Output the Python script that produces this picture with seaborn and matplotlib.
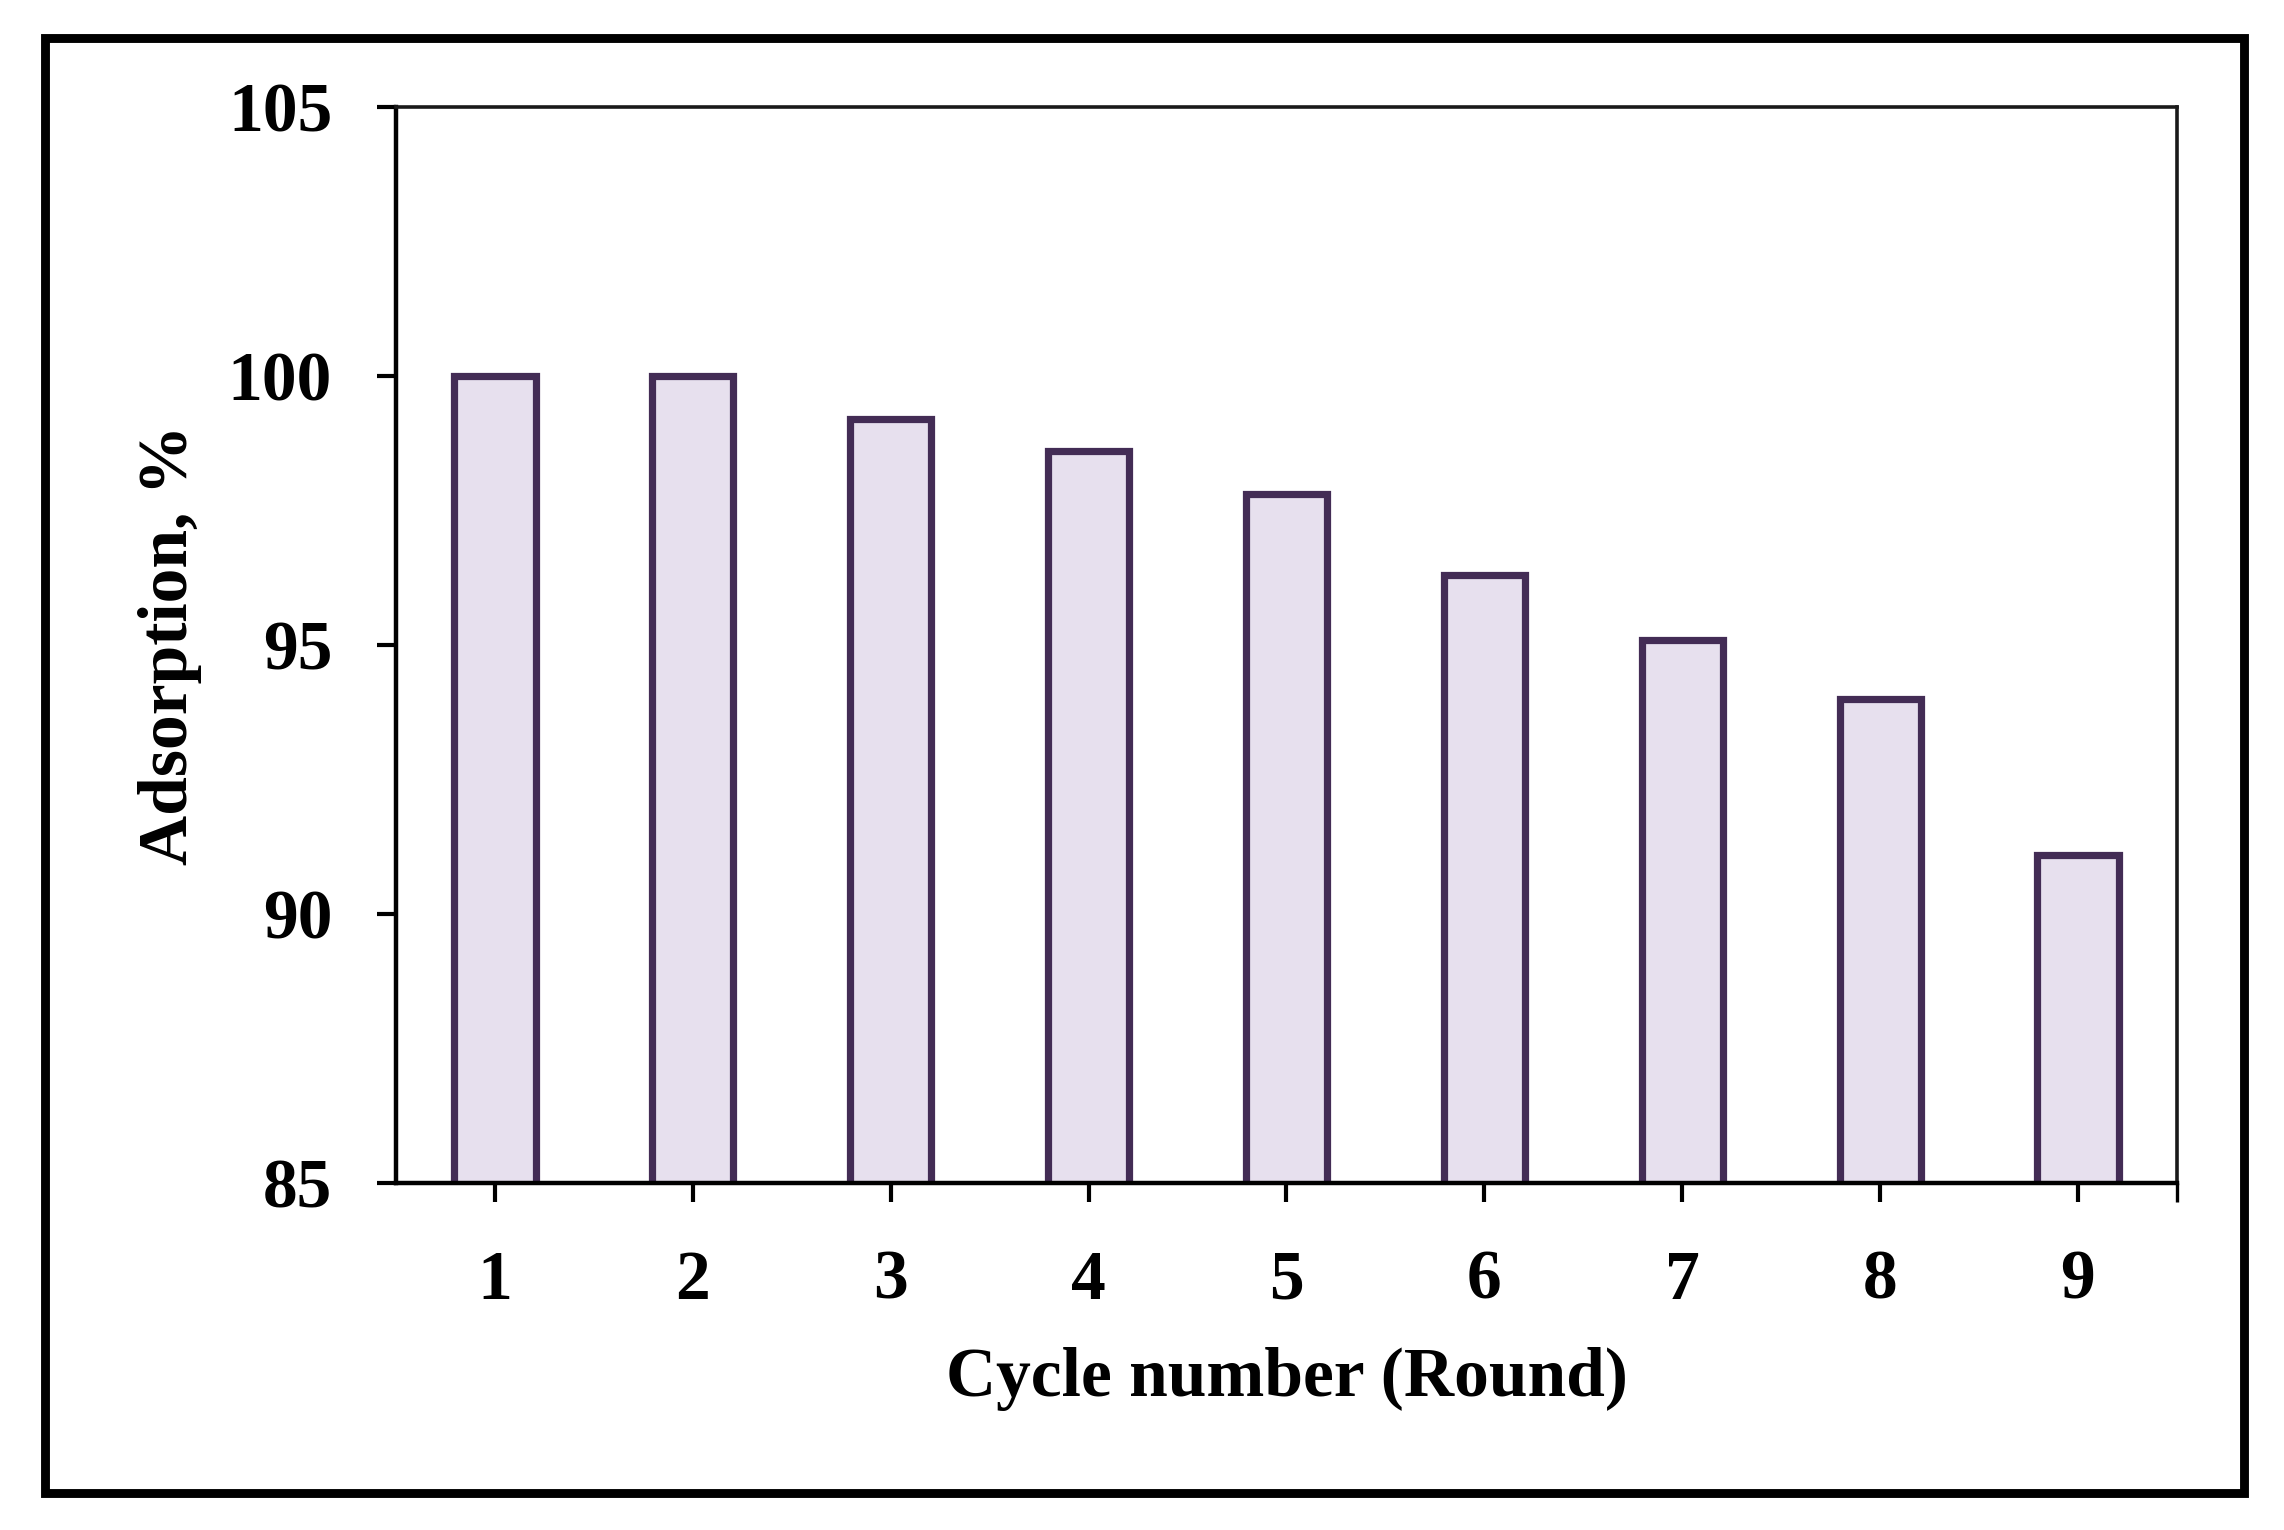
import matplotlib
matplotlib.use("Agg")
import matplotlib.pyplot as plt
import seaborn as sns
import pandas as pd
from matplotlib.patches import Rectangle

# data
cycles = ["1", "2", "3", "4", "5", "6", "7", "8", "9"]
adsorption = [100.0, 100.0, 99.2, 98.6, 97.8, 96.3, 95.1, 94.0, 91.1]
y_ticks = [85, 90, 95, 100, 105]

bar_fill = "#E7E0EE"
bar_edge = "#432C55"

sns.set_style("white")
plt.rcParams["font.family"] = ["Liberation Serif", "DejaVu Serif"]
plt.rcParams["font.weight"] = "bold"
plt.rcParams["text.color"] = "black"
plt.rcParams["axes.labelcolor"] = "black"
plt.rcParams["xtick.color"] = "black"
plt.rcParams["ytick.color"] = "black"

df = pd.DataFrame({"cycle": cycles, "adsorption": adsorption})

fig = plt.figure(figsize=(11.42, 7.65), dpi=200)
ax = fig.add_axes([0.1734, 0.2268, 0.9531 - 0.1734, 0.9301 - 0.2268])

sns.barplot(data=df, x="cycle", y="adsorption", order=cycles, color=bar_fill,
            saturation=1, edgecolor=bar_edge, linewidth=2.6, width=0.41, ax=ax)

ax.set_ylim(85, 105)
ax.set_xlim(-0.5, 8.5)
ax.set_yticks(y_ticks)
ax.set_yticklabels([str(t) for t in y_ticks])

# spines
for side in ["left", "bottom"]:
    ax.spines[side].set_linewidth(1.6)
    ax.spines[side].set_color("black")
for side in ["top", "right"]:
    ax.spines[side].set_linewidth(1.3)
    ax.spines[side].set_color("#1a1a1a")
    ax.spines[side].set_visible(True)
ax.spines["bottom"].set_zorder(5)

ax.tick_params(axis="both", direction="out", length=7, width=1.5, color="black",
               labelcolor="black", labelsize=25, pad=16)
ax.tick_params(axis="x", pad=17, bottom=True)
ax.tick_params(axis="y", left=True)
ax.set_xticks([8.5], minor=True)
ax.tick_params(axis="x", which="minor", length=7, width=1.2, bottom=True)
for lab in ax.get_xticklabels() + ax.get_yticklabels():
    lab.set_fontweight("bold")

ax.set_xlabel("Cycle number (Round)", fontsize=25, fontweight="bold", color="black")
ax.set_ylabel("Adsorption, %", fontsize=25, fontweight="bold", color="black")
ax.xaxis.set_label_coords(0.5, -0.182)
ax.xaxis.label.set_verticalalignment("center")
ax.yaxis.set_label_coords(-0.127, 0.5)
ax.yaxis.label.set_verticalalignment("center")

# outer frame around the whole figure
fig.patches.append(Rectangle((0.0197, 0.0242), 0.9825 - 0.0197, 0.9752 - 0.0242,
                             transform=fig.transFigure, fill=False,
                             edgecolor="black", linewidth=3.2))

fig.savefig("out.png", dpi=200, facecolor="white")
